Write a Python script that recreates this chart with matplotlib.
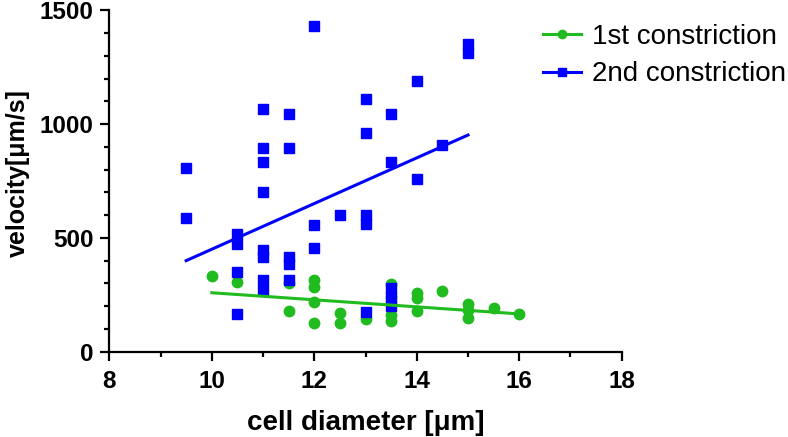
import matplotlib
matplotlib.use("Agg")
import matplotlib.pyplot as plt
from matplotlib.lines import Line2D
from matplotlib.ticker import MultipleLocator

plt.rcParams['font.family'] = ['Liberation Sans', 'DejaVu Sans']

# 1st constriction (green circles)
x1 = [10, 10.5, 11.5, 11.5, 12, 12, 12, 12, 12.5, 12.5, 13,
      13.5, 13.5, 13.5, 13.5, 14, 14, 14, 14.5, 15, 15, 15, 15.5, 16]
y1 = [333, 307, 300, 180, 313, 285, 220, 125, 172, 128, 145,
      297, 242, 160, 136, 257, 238, 180, 265, 208, 185, 149, 191, 166]
fit1_x = [10, 16]
fit1_y = [259, 166]

# 2nd constriction (blue squares)
x2 = [9.5, 9.5, 10.5, 10.5, 10.5, 10.5,
      11, 11, 11, 11, 11, 11, 11, 11,
      11.5, 11.5, 11.5, 11.5, 11.5,
      12, 12, 12, 12.5,
      13, 13, 13, 13, 13,
      13.5, 13.5, 13.5, 13.5, 13.5,
      14, 14, 14.5, 15, 15]
y2 = [806, 589, 517, 472, 352, 164,
      1065, 894, 832, 703, 447, 415, 315, 271,
      1043, 894, 418, 385, 315,
      1429, 556, 454, 601,
      1111, 963, 600, 562, 176,
      1043, 832, 280, 240, 200,
      1191, 758, 909, 1353, 1314]
fit2_x = [9.5, 15]
fit2_y = [400, 952]

labels = ['1st constriction', '2nd constriction']
green = '#1fbb1f'
blue = '#0000ff'

W, H = 788, 437
fig = plt.figure(figsize=(W/100, H/100), dpi=100)
ax = fig.add_axes([109.3/W, 1-351.7/H, (621.7-109.3)/W, (351.7-10.3)/H])

ax.plot(x1, y1, 'o', color=green, ms=7.5, mec=green, zorder=3, clip_on=False)
ax.plot(x2, y2, 's', color=blue, ms=7.2, mec=blue, zorder=4, clip_on=False)
ax.plot(fit1_x, fit1_y, '-', color=green, lw=2.2, zorder=5)
ax.plot(fit2_x, fit2_y, '-', color=blue, lw=2.2, zorder=5)

ax.set_xlim(8, 18)
ax.set_ylim(0, 1500)
ax.xaxis.set_major_locator(MultipleLocator(2))
ax.xaxis.set_minor_locator(MultipleLocator(1))
ax.yaxis.set_major_locator(MultipleLocator(500))
ax.yaxis.set_minor_locator(MultipleLocator(100))

for s in ['top', 'right']:
    ax.spines[s].set_visible(False)
for s in ['left', 'bottom']:
    ax.spines[s].set_linewidth(1.6)
ax.tick_params(which='major', direction='out', length=6.5, width=1.6, labelsize=17.5)
ax.tick_params(which='minor', direction='out', length=3.6, width=1.6)
ax.tick_params(axis='x', which='major', pad=7)
ax.tick_params(axis='y', which='major', pad=5)
for lab in ax.get_xticklabels() + ax.get_yticklabels():
    lab.set_fontweight('bold')

ax.set_xlabel('cell diameter [\u03bcm]', fontsize=20, fontweight='bold', labelpad=12)
ax.set_ylabel('velocity[\u03bcm/s]', fontsize=18, fontweight='bold', va='center')
ax.yaxis.set_label_coords(-(109.3-18)/(621.7-109.3), (351.7-173)/(351.7-10.3))

handles = [Line2D([0], [0], color=green, lw=2.2, marker='o', ms=6),
           Line2D([0], [0], color=blue, lw=2.2, marker='s', ms=6)]
fig.legend(handles, labels, loc='upper left', bbox_to_anchor=(532/W, 1-13/H),
           frameon=False, fontsize=20, handlelength=1.35, handletextpad=0.4,
           labelspacing=0.4, borderaxespad=0)

fig.savefig('out.png', dpi=100)
